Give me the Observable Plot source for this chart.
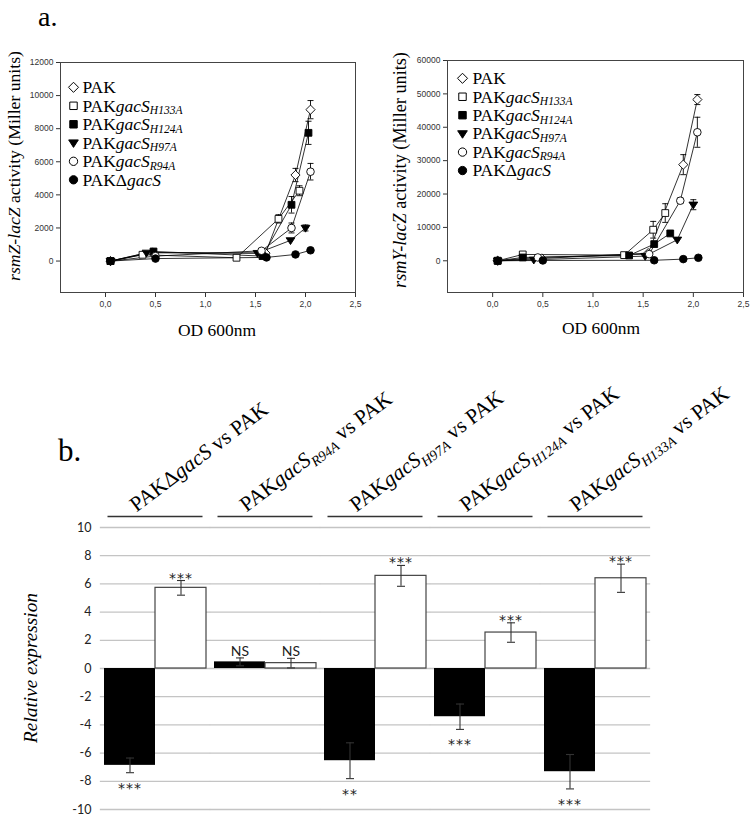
<!DOCTYPE html>
<html><head><meta charset="utf-8">
<script src="https://cdn.jsdelivr.net/npm/d3@7"></script>
<script src="https://cdn.jsdelivr.net/npm/@observablehq/plot@0.6"></script>
<style>
body{margin:0;background:#fff}
#fig{position:relative;width:750px;height:817px;overflow:hidden;background:#fff}
</style></head><body><div id="fig"></div>
<script>
// ---------- DATA ----------
const seriesKeys = ["PAK", "H133A", "H124A", "H97A", "R94A", "dgacS"];
const odTicks = [0, 0.5, 1, 1.5, 2, 2.5];
const rsmZTicks = [0, 2000, 4000, 6000, 8000, 10000, 12000];
const rsmYTicks = [0, 10000, 20000, 30000, 40000, 50000, 60000];

// [OD600, Miller units, error]
const rsmZ_PAK   = [[0.05,0,0],[0.47,520,0],[1.60,480,0],[1.90,5200,400],[2.05,9150,550]];
const rsmZ_H133A = [[0.05,0,0],[0.37,380,0],[1.31,200,0],[1.73,2550,250],[1.94,4250,300]];
const rsmZ_H124A = [[0.05,0,0],[0.48,580,0],[1.57,300,0],[1.86,3400,500],[2.03,7750,700]];
const rsmZ_H97A  = [[0.05,0,0],[0.41,500,0],[1.52,480,0],[1.85,1250,0],[2.00,2000,180]];
const rsmZ_R94A  = [[0.05,0,0],[0.50,300,0],[1.56,620,0],[1.86,2000,300],[2.05,5400,500]];
const rsmZ_dgacS = [[0.05,0,0],[0.50,150,0],[1.61,220,0],[1.90,400,0],[2.05,650,0]];

const rsmY_PAK   = [[0.05,0,0],[0.49,700,0],[1.55,2300,0],[1.90,28800,3000],[2.04,48300,1500]];
const rsmY_H133A = [[0.05,0,0],[0.30,1900,0],[1.31,1700,0],[1.60,9300,2500],[1.72,14300,2800]];
const rsmY_H124A = [[0.05,0,0],[0.30,1000,0],[1.36,1600,0],[1.61,5000,0],[1.77,8200,0]];
const rsmY_H97A  = [[0.05,0,0],[0.41,300,0],[1.52,1400,0],[1.84,6300,0],[2.00,16800,1500]];
const rsmY_R94A  = [[0.05,0,0],[0.45,1000,0],[1.56,2000,0],[1.87,18000,800],[2.04,38500,4500]];
const rsmY_dgacS = [[0.05,0,0],[0.50,100,0],[1.61,150,0],[1.90,500,0],[2.05,900,0]];

const barGroups   = ["dgacS", "R94A", "H97A", "H124A", "H133A"];
const blackValues = [-6.87, 0.47, -6.54, -3.42, -7.32];
const blackErrors = [0.52, 0.28, 1.27, 0.90, 1.22];
const whiteValues = [5.72, 0.38, 6.57, 2.55, 6.40];
const whiteErrors = [0.52, 0.34, 0.74, 0.69, 1.00];
const blackSig    = ["***", "NS", "**", "***", "***"];
const whiteSig    = ["***", "NS", "***", "***", "***"];
const barTicks    = [-10, -8, -6, -4, -2, 0, 2, 4, 6, 8, 10];

// ---------- SYMBOLS ----------
const symDiamond = {draw(c, s) { const r = Math.sqrt(s / Math.PI) * 1.15; c.moveTo(0, -r); c.lineTo(r, 0); c.lineTo(0, r); c.lineTo(-r, 0); c.closePath(); }};
const symSquare  = {draw(c, s) { const r = Math.sqrt(s / Math.PI) * 0.85; c.rect(-r, -r, 2 * r, 2 * r); }};
const symTriDown = {draw(c, s) { const r = Math.sqrt(s / Math.PI) * 1.1; c.moveTo(-r, -r * 0.6); c.lineTo(r, -r * 0.6); c.lineTo(0, r * 0.95); c.closePath(); }};
const symCircle  = {draw(c, s) { const r = Math.sqrt(s / Math.PI) * 0.95; c.moveTo(r, 0); c.arc(0, 0, r, 0, 2 * Math.PI); }};
const symCap     = {draw(c, s) { const r = Math.sqrt(s / Math.PI); c.moveTo(-r, 0); c.lineTo(r, 0); }};
const seriesSymbols = [symDiamond, symSquare, symSquare, symTriDown, symCircle, symCircle];
const seriesFilled  = [false, false, true, true, false, true];

const SERIF = "'Liberation Serif', 'Times New Roman', serif";

// ---------- RICH TEXT ----------
function strainParts(k) {
  if (k === "PAK") return [["PAK", ""]];
  if (k === "dgacS") return [["PAK\u0394", ""], ["gacS", "i"]];
  return [["PAK", ""], ["gacS", "i"], [k, "sub"]];
}
function rich(sel, parts, size, shift = 0.24) {
  sel.text(null).style("font-size", size + "px");
  let cur = 0;
  for (const [s, st] of parts) {
    const t = sel.append("tspan").text(s);
    if (st === "i" || st === "sub") t.style("font-style", "italic");
    const target = st === "sub" ? size * shift : 0;
    if (st === "sub") t.style("font-size", (size * 0.66) + "px");
    if (target !== cur) { t.attr("dy", target - cur); cur = target; }
  }
}
// fit a rich text to a measured target length
function richFit(sel, parts, size, target, shift) {
  rich(sel, parts, size, shift);
  const L = sel.node().getComputedTextLength();
  const s = L > 0 ? size * target / L : size;
  rich(sel, parts, s, shift);
  return s;
}

const fig = d3.select("#fig");
const fmtComma = d => d.toFixed(1).replace(".", ",");

function makeRows(arrays) {
  return seriesKeys.flatMap((k, i) => arrays[i].map(([od, value, err]) => ({series: k, od, value, err})));
}
const rowsZ = makeRows([rsmZ_PAK, rsmZ_H133A, rsmZ_H124A, rsmZ_H97A, rsmZ_R94A, rsmZ_dgacS]);
const rowsY = makeRows([rsmY_PAK, rsmY_H133A, rsmY_H124A, rsmY_H97A, rsmY_R94A, rsmY_dgacS]);

function linePanel(rows, yDomain, yTicks, width, marginLeft, marginRight, marginTop, left) {
  const marks = [Plot.frame({stroke: "#444", strokeWidth: 1})];
  for (const k of seriesKeys) {
    marks.push(Plot.line(rows.filter(d => d.series === k), {x: "od", y: "value", stroke: "black", strokeWidth: 0.8}));
  }
  const e = rows.filter(d => d.err > 0);
  marks.push(Plot.ruleX(e, {x: "od", y1: d => d.value - d.err, y2: d => d.value + d.err, stroke: "black", strokeWidth: 0.9}));
  marks.push(Plot.dot(e, {x: "od", y: d => d.value + d.err, symbol: symCap, r: 3, stroke: "black", fill: "none", strokeWidth: 0.9}));
  marks.push(Plot.dot(e, {x: "od", y: d => d.value - d.err, symbol: symCap, r: 3, stroke: "black", fill: "none", strokeWidth: 0.9}));
  seriesKeys.forEach((k, i) => {
    marks.push(Plot.dot(rows.filter(d => d.series === k), {x: "od", y: "value", symbol: seriesSymbols[i], r: 4,
      fill: seriesFilled[i] ? "black" : "white", stroke: "black", strokeWidth: 0.9}));
  });
  const svg = Plot.plot({
    width, height: 345, marginLeft, marginRight, marginTop, marginBottom: 345 - 292,
    style: {background: "none", fontFamily: "'Liberation Sans', Arial, sans-serif", fontSize: "8.5px", color: "#333"},
    x: {domain: [-0.45, 2.5], ticks: odTicks, tickFormat: fmtComma, tickSize: 5, tickPadding: 3, label: null},
    y: {domain: yDomain, ticks: yTicks, tickFormat: d => String(d), tickSize: 4, tickPadding: 3, label: null},
    marks
  });
  svg.style.position = "absolute"; svg.style.left = left + "px"; svg.style.top = "0px";
  fig.node().appendChild(svg);
}
linePanel(rowsZ, [-1900, 12000], rsmZTicks, 370, 60, 15, 62, 0);
linePanel(rowsY, [-9500, 60000], rsmYTicks, 375, 72, 7, 60, 375);

// ---------- BAR CHART ----------
const labelMap = new Map();
const barData = barGroups.flatMap((g, i) => {
  const parts = strainParts(g).concat([[" vs PAK", ""]]);
  const plain = parts.map(p => p[0]).join("");
  labelMap.set(plain, parts);
  return [
    {group: g, series: "black", value: blackValues[i], err: blackErrors[i], sig: blackSig[i], label: plain},
    {group: g, series: "white", value: whiteValues[i], err: whiteErrors[i], sig: whiteSig[i], label: plain}
  ];
});
const yTop = barTicks[barTicks.length - 1];
const barSvg = Plot.plot({
  width: 750, height: 437, marginLeft: 98, marginRight: 98, marginTop: 147, marginBottom: 8,
  facet: {data: barData, x: "group"},
  fx: {domain: barGroups, paddingInner: 0.075, paddingOuter: 0.0375, axis: null, label: null},
  x: {domain: ["black", "white"], padding: 0, axis: null, label: null},
  y: {domain: [-10, 10], ticks: barTicks, tickFormat: d => String(d), tickSize: 0, tickPadding: 13, label: null},
  style: {background: "none", fontFamily: "Lato", fontSize: "12.5px", color: "#222"},
  marks: [
    Plot.ruleY(barTicks, {stroke: "#c4c4c4", strokeWidth: 1.3, insetLeft: -4.16, insetRight: -4.16}),
    Plot.barY(barData, {filter: d => d.series === "black", x: "series", y: "value", fill: "black"}),
    Plot.barY(barData, {filter: d => d.series === "white", x: "series", y: "value", fill: "white", stroke: "#444", strokeWidth: 1.2}),
    Plot.ruleX(barData, {x: "series", y1: d => d.value - d.err, y2: d => d.value + d.err, stroke: "#333", strokeWidth: 1.1}),
    Plot.dot(barData, {x: "series", y: d => d.value + d.err, symbol: symCap, r: 4, stroke: "#333", fill: "none", strokeWidth: 1.1}),
    Plot.dot(barData, {x: "series", y: d => d.value - d.err, symbol: symCap, r: 4, stroke: "#333", fill: "none", strokeWidth: 1.1}),
    Plot.text(barData, {filter: d => d.value >= 0 && d.sig !== "NS", x: "series", y: d => d.value + d.err, text: "sig",
      lineAnchor: "bottom", dy: 2, fontFamily: "DejaVu Sans", fontSize: 14, fill: "#222"}),
    Plot.text(barData, {filter: d => d.sig === "NS", x: "series", y: d => d.value + d.err, text: "sig",
      lineAnchor: "bottom", dy: -2, fontFamily: "Lato", fontSize: 14, fill: "#222"}),
    Plot.text(barData, {filter: d => d.value < 0, x: "series", y: d => d.value - d.err, text: "sig",
      lineAnchor: "bottom", dy: 20, fontFamily: "DejaVu Sans", fontSize: 14, fill: "#222"}),
    Plot.ruleY(barData, {filter: d => d.series === "black", y: yTop, dy: -11, insetLeft: 3.5, insetRight: 3.5, stroke: "#333", strokeWidth: 1.4}),
    Plot.text(barData, {filter: d => d.series === "black", frameAnchor: "top", text: "label", textAnchor: "start", lineAnchor: "bottom",
      rotate: -37, dx: -19, dy: -15, fontFamily: SERIF, fontSize: 20, fill: "black"})
  ]
});
barSvg.style.position = "absolute"; barSvg.style.left = "0px"; barSvg.style.top = "380px";
fig.node().appendChild(barSvg);

// group labels: serif, sized so the H124A label is as long as in the reference
const groupTexts = d3.select(barSvg).selectAll("text").filter(function () { return labelMap.has(this.textContent); });
let groupSize = 20;
groupTexts.each(function () {
  if (this.textContent.indexOf("H124A") >= 0) {
    const sel = d3.select(this).style("font-family", SERIF);
    groupSize = richFit(sel, labelMap.get(this.textContent), 20, 193);
  }
});
groupTexts.each(function () {
  const sel = d3.select(this).style("font-family", SERIF);
  rich(sel, labelMap.get(this.textContent), groupSize);
});
d3.select(barSvg).selectAll("text").each(function () {
  if (/^\*+$/.test(this.textContent)) this.setAttribute("letter-spacing", "1");
});

// ---------- TITLES, AXIS TITLES, LEGENDS ----------
const ov = fig.append("svg").attr("width", 750).attr("height", 817)
  .style("position", "absolute").style("left", "0px").style("top", "0px").style("pointer-events", "none");
function serifText() { return ov.append("text").style("font-family", SERIF).attr("fill", "black"); }

serifText().attr("x", 38).attr("y", 26).style("font-size", "28px").text("a.");
serifText().attr("x", 58).attr("y", 461).style("font-size", "31px").text("b.");

function rotLabel(x, y, parts, target) {
  const t = serifText().attr("transform", `translate(${x},${y}) rotate(-90)`).attr("text-anchor", "middle");
  richFit(t, parts, 17, target);
}
rotLabel(20, 166, [["rsmZ-lacZ", "i"], [" activity (Miller units)", ""]], 230);
rotLabel(406, 170, [["rsmY-lacZ", "i"], [" activity (Miller units)", ""]], 236);
rotLabel(37, 668, [["Relative expression", "i"]], 150);
richFit(serifText().attr("x", 217).attr("y", 336).attr("text-anchor", "middle"), [["OD 600nm", ""]], 18, 78);
richFit(serifText().attr("x", 601).attr("y", 333.5).attr("text-anchor", "middle"), [["OD 600nm", ""]], 18, 78);

function legend(sx, tx, y0, step) {
  // size the legend text so that the H133A entry matches the reference width
  const probe = serifText().attr("x", tx).attr("y", y0);
  const size = richFit(probe, strainParts("H133A"), 17, 100, 0.15);
  probe.remove();
  seriesKeys.forEach((k, i) => {
    const y = y0 + i * step;
    ov.append("path").attr("transform", `translate(${sx},${y})`)
      .attr("d", d3.symbol(seriesSymbols[i], 16 * Math.PI * 1.2)())
      .attr("fill", seriesFilled[i] ? "black" : "white").attr("stroke", "black").attr("stroke-width", 1);
    const t = serifText().attr("x", tx).attr("y", y + size * 0.33);
    rich(t, strainParts(k), size, 0.15);
  });
}
legend(73.5, 82.5, 87.3, 18.5);
legend(462.5, 472.5, 78.3, 18.45);
</script></body></html>
